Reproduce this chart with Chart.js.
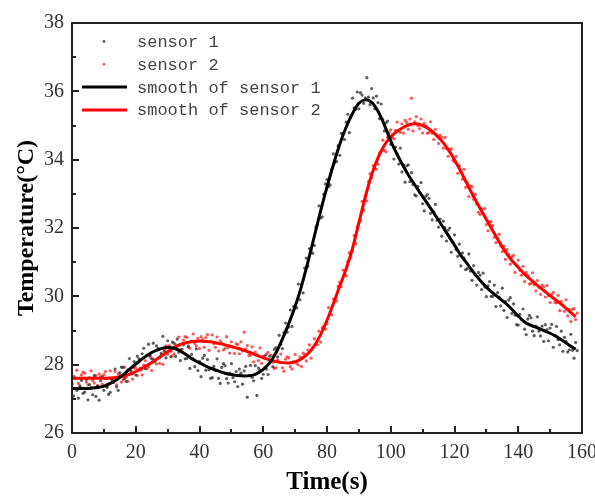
<!DOCTYPE html>
<html>
<head>
<meta charset="utf-8">
<script src="https://cdn.jsdelivr.net/npm/chart.js@4.4.0/dist/chart.umd.min.js"></script>
<style>
  html, body { margin: 0; padding: 0; background: #fff; }
  #wrap { width: 595px; height: 498px; }
</style>
</head>
<body>
<div id="wrap"><canvas id="tempChart" width="595" height="498"></canvas></div>
<script>
// sampling of the raw readings and of the smoothed curves (seconds)
const sampleInterval = 0.5;
const smoothInterval = 2;

const seriesLabels = ['sensor 1', 'sensor 2', 'smooth of sensor 1', 'smooth of sensor 2'];
const xTicks = [0, 20, 40, 60, 80, 100, 120, 140, 160];
const yTicks = [26, 28, 30, 32, 34, 36, 38];

// raw readings, sensor 1 (8 samples = 4 s per row)
const sensor1 = [
  27.45, 27.08, 27.61, 27.25, 27.02, 27.38, 27.54, 27.16, // 0
  27.20, 27.57, 26.97, 27.42, 27.33, 27.12, 27.68, 27.07, // 4
  27.38, 26.96, 27.53, 27.65, 27.25, 27.60, 27.34, 27.13, // 8
  27.19, 27.57, 27.48, 27.87, 27.35, 27.25, 27.77, 27.93, // 12
  27.92, 27.59, 27.51, 27.85, 28.18, 27.82, 27.74, 28.09, // 16
  27.70, 28.25, 28.17, 27.89, 28.32, 28.48, 27.88, 28.28, // 20
  28.60, 28.27, 28.17, 28.63, 28.09, 28.55, 28.48, 28.22, // 24
  28.33, 28.83, 28.39, 28.20, 28.70, 28.49, 28.23, 28.66, // 28
  28.63, 28.24, 28.75, 28.37, 28.12, 28.45, 28.58, 28.17, // 32
  28.18, 28.52, 27.89, 28.30, 28.17, 27.94, 28.46, 27.83, // 36
  28.10, 27.65, 28.19, 28.27, 27.84, 28.15, 27.85, 27.60, // 40
  27.62, 27.95, 27.83, 28.17, 27.60, 27.45, 27.92, 28.03, // 44
  27.97, 27.59, 27.46, 27.75, 28.03, 27.62, 27.50, 27.80, // 48
  27.36, 27.87, 27.75, 27.43, 27.82, 27.95, 27.05, 27.69, // 52
  27.98, 27.63, 27.53, 27.97, 27.10, 27.90, 27.84, 27.60, // 56
  27.72, 28.26, 27.87, 27.71, 28.25, 28.12, 27.94, 28.45, // 60
  28.50, 28.23, 28.86, 28.60, 28.47, 28.94, 29.22, 28.95, // 64
  29.10, 29.60, 29.12, 29.70, 29.72, 29.66, 30.36, 29.90, // 68
  30.35, 30.10, 30.83, 31.12, 30.88, 31.40, 31.31, 31.26, // 72
  31.49, 32.03, 32.11, 32.65, 32.29, 32.33, 32.99, 33.29, // 76
  33.42, 33.21, 33.26, 33.72, 34.17, 33.92, 33.95, 34.41, // 80
  34.13, 34.77, 34.77, 34.59, 35.10, 35.33, 34.79, 35.26, // 84
  35.80, 35.52, 35.47, 35.98, 35.49, 35.96, 35.89, 35.65, // 88
  35.81, 36.40, 35.83, 35.61, 36.08, 35.81, 35.49, 35.86, // 92
  35.67, 35.20, 35.63, 35.17, 34.84, 35.08, 35.13, 34.63, // 96
  34.45, 34.72, 34.02, 34.37, 34.17, 33.87, 34.34, 33.64, // 100
  33.85, 33.34, 33.82, 33.85, 33.36, 33.62, 33.27, 32.97, // 104
  32.94, 33.22, 33.04, 33.33, 32.71, 32.50, 32.93, 32.98, // 108
  32.87, 32.43, 32.24, 32.47, 32.69, 32.22, 32.03, 32.26, // 112
  31.76, 32.20, 32.01, 31.62, 31.94, 32.00, 31.29, 31.58, // 116
  31.80, 31.37, 31.17, 31.53, 30.89, 31.27, 31.12, 30.78, // 120
  30.81, 31.24, 30.74, 30.47, 30.90, 30.63, 30.33, 30.70, // 124
  30.62, 30.20, 30.68, 30.27, 29.99, 30.31, 30.43, 30.00, // 128
  30.00, 30.33, 29.70, 30.11, 29.97, 29.72, 30.24, 29.59, // 132
  29.85, 29.38, 29.89, 29.96, 29.50, 29.78, 29.45, 29.17, // 136
  29.16, 29.47, 29.32, 29.63, 29.04, 28.88, 29.34, 29.44, // 140
  29.37, 28.98, 28.85, 29.13, 29.40, 28.98, 28.84, 29.13, // 144
  28.68, 29.17, 29.03, 28.70, 29.07, 29.18, 28.51, 28.86, // 148
  29.12, 28.73, 28.58, 28.98, 28.39, 28.80, 28.68, 28.37, // 152
  28.43, 28.89, 28.42, 28.19, 28.65, 28.41                // 156
];

// raw readings, sensor 2
const sensor2 = [
  27.42, 27.66, 27.59, 27.84, 27.45, 27.35, 27.70, 27.78, // 0
  27.75, 27.49, 27.41, 27.62, 27.82, 27.54, 27.46, 27.68, // 4
  27.38, 27.73, 27.65, 27.43, 27.71, 27.80, 27.35, 27.61, // 8
  27.82, 27.57, 27.49, 27.80, 27.41, 27.73, 27.68, 27.49, // 12
  27.56, 27.93, 27.63, 27.51, 27.86, 27.73, 27.58, 27.90, // 16
  27.91, 27.68, 28.07, 27.84, 27.70, 27.99, 28.12, 27.88, // 20
  27.93, 28.22, 27.83, 28.17, 28.13, 28.02, 28.44, 28.04, // 24
  28.29, 28.01, 28.45, 28.55, 28.30, 28.56, 28.39, 28.26, // 28
  28.32, 28.58, 28.54, 28.81, 28.44, 28.36, 28.72, 28.82, // 32
  28.80, 28.55, 28.48, 28.69, 28.90, 28.62, 28.55, 28.77, // 36
  28.47, 28.82, 28.74, 28.51, 28.79, 28.88, 28.42, 28.68, // 40
  28.87, 28.61, 28.51, 28.81, 28.40, 28.70, 28.63, 28.43, // 44
  28.48, 28.82, 28.50, 28.34, 28.67, 28.51, 28.33, 28.61, // 48
  28.59, 28.32, 28.67, 28.40, 28.95, 28.46, 28.56, 28.27, // 52
  28.28, 28.52, 28.08, 28.37, 28.28, 28.12, 28.49, 28.04, // 56
  28.24, 27.92, 28.30, 28.36, 28.06, 28.28, 28.07, 27.89, // 60
  27.91, 28.14, 28.07, 28.31, 27.91, 27.81, 28.16, 28.23, // 64
  28.20, 27.94, 27.87, 28.09, 28.30, 28.04, 27.99, 28.23, // 68
  27.95, 28.34, 28.30, 28.11, 28.43, 28.58, 28.19, 28.50, // 72
  28.76, 28.59, 28.59, 28.98, 28.66, 29.08, 29.12, 29.04, // 76
  29.20, 29.67, 29.48, 29.46, 29.92, 29.90, 29.86, 30.29, // 80
  30.41, 30.28, 30.77, 30.64, 30.60, 31.01, 31.27, 31.15, // 84
  31.33, 31.78, 31.55, 32.04, 32.16, 32.21, 32.78, 32.53, // 88
  32.94, 32.79, 33.36, 33.59, 33.47, 33.83, 33.75, 33.72, // 92
  33.87, 34.20, 34.23, 34.57, 34.27, 34.23, 34.65, 34.79, // 96
  34.87, 34.65, 34.61, 34.86, 35.10, 34.85, 34.80, 35.05, // 100
  34.78, 35.15, 35.09, 34.89, 35.19, 35.80, 34.84, 35.11, // 104
  35.26, 35.00, 34.91, 35.19, 34.78, 35.07, 34.98, 34.77, // 108
  34.80, 35.11, 34.77, 34.59, 34.89, 34.69, 34.47, 34.72, // 112
  34.66, 34.34, 34.65, 34.32, 34.10, 34.29, 34.32, 33.98, // 116
  33.93, 34.10, 33.60, 33.82, 33.66, 33.43, 33.72, 33.19, // 120
  33.32, 32.92, 33.23, 33.21, 32.84, 32.99, 32.70, 32.46, // 124
  32.40, 32.56, 32.41, 32.57, 32.10, 31.92, 32.19, 32.18, // 128
  32.07, 31.73, 31.57, 31.70, 31.82, 31.47, 31.31, 31.46, // 132
  31.08, 31.37, 31.23, 30.94, 31.16, 31.20, 30.70, 30.91, // 136
  31.06, 30.76, 30.62, 30.88, 30.43, 30.70, 30.60, 30.36, // 140
  30.38, 30.69, 30.34, 30.16, 30.46, 30.27, 30.06, 30.33, // 144
  30.28, 29.98, 30.32, 30.02, 29.82, 30.05, 30.12, 29.82, // 148
  29.81, 30.03, 29.58, 29.85, 29.74, 29.56, 29.90, 29.43, // 152
  29.61, 29.26, 29.62, 29.64, 29.32, 29.51                // 156
];

// smoothed curves, one value every 2 s (10 per row = 20 s)
const smooth1 = [
  27.30, 27.30, 27.30, 27.31, 27.33, 27.37, 27.45, 27.56, 27.70, 27.86, // 0
  28.02, 28.17, 28.30, 28.40, 28.47, 28.50, 28.48, 28.40, 28.28, 28.15, // 20
  28.05, 27.96, 27.88, 27.81, 27.75, 27.71, 27.68, 27.67, 27.68, 27.74, // 40
  27.86, 28.05, 28.35, 28.75, 29.20, 29.70, 30.30, 31.00, 31.75, 32.50, // 60
  33.20, 33.85, 34.45, 34.95, 35.35, 35.65, 35.75, 35.68, 35.42, 35.02, // 80
  34.55, 34.15, 33.80, 33.48, 33.20, 32.92, 32.65, 32.37, 32.08, 31.79, // 100
  31.50, 31.20, 30.95, 30.70, 30.47, 30.27, 30.10, 29.95, 29.80, 29.62, // 120
  29.42, 29.25, 29.15, 29.08, 29.00, 28.92, 28.82, 28.70, 28.57, 28.45  // 140
];

const smooth2 = [
  27.60, 27.60, 27.60, 27.60, 27.60, 27.60, 27.61, 27.63, 27.66, 27.72, // 0
  27.80, 27.90, 28.00, 28.12, 28.25, 28.38, 28.50, 28.59, 28.65, 28.68, // 20
  28.69, 28.68, 28.66, 28.62, 28.58, 28.53, 28.48, 28.42, 28.35, 28.27, // 40
  28.20, 28.14, 28.09, 28.06, 28.05, 28.08, 28.17, 28.32, 28.55, 28.88, // 60
  29.30, 29.78, 30.30, 30.80, 31.40, 32.15, 32.90, 33.55, 34.05, 34.42, // 80
  34.67, 34.83, 34.95, 35.03, 35.05, 35.00, 34.90, 34.75, 34.55, 34.30, // 100
  34.00, 33.65, 33.28, 32.92, 32.58, 32.25, 31.92, 31.60, 31.30, 31.05, // 120
  30.85, 30.65, 30.48, 30.32, 30.17, 30.02, 29.88, 29.73, 29.57, 29.40  // 140
];

function toPoints(values, step) {
  return values.map((v, i) => ({ x: i * step, y: v }));
}

const serif = "'Liberation Serif', 'Times New Roman', serif";
const mono = "'Liberation Mono', 'Courier New', monospace";

// frame, inward ticks and the legend inside the plot
const framePlugin = {
  id: 'frame',
  afterDraw(chart) {
    const ctx = chart.ctx;
    const area = chart.chartArea;
    const xs = chart.scales.x;
    const ys = chart.scales.y;
    ctx.save();
    ctx.strokeStyle = '#222';
    ctx.lineWidth = 2;
    ctx.strokeRect(area.left, area.top, area.right - area.left, area.bottom - area.top);

    // major + minor ticks pointing into the plot
    ctx.beginPath();
    for (let i = 0; i < xTicks.length; i++) {
      const px = Math.round(xs.getPixelForValue(xTicks[i]));
      ctx.moveTo(px, area.bottom);
      ctx.lineTo(px, area.bottom - 7);
      if (i < xTicks.length - 1) {
        const mx = Math.round(xs.getPixelForValue((xTicks[i] + xTicks[i + 1]) / 2));
        ctx.moveTo(mx, area.bottom);
        ctx.lineTo(mx, area.bottom - 4);
      }
    }
    for (let i = 0; i < yTicks.length; i++) {
      const py = Math.round(ys.getPixelForValue(yTicks[i]));
      ctx.moveTo(area.left, py);
      ctx.lineTo(area.left + 7, py);
      if (i < yTicks.length - 1) {
        const my = Math.round(ys.getPixelForValue((yTicks[i] + yTicks[i + 1]) / 2));
        ctx.moveTo(area.left, my);
        ctx.lineTo(area.left + 4, my);
      }
    }
    ctx.stroke();

    // legend
    ctx.font = '17px ' + mono;
    ctx.textBaseline = 'middle';
    ctx.textAlign = 'left';
    chart.data.datasets.forEach((ds, i) => {
      const y = area.top + 18.5 + i * 22.8;
      if (ds.showLine) {
        ctx.strokeStyle = ds.borderColor;
        ctx.lineWidth = 3;
        ctx.beginPath();
        ctx.moveTo(area.left + 10, y);
        ctx.lineTo(area.left + 55, y);
        ctx.stroke();
      } else {
        ctx.fillStyle = ds.backgroundColor;
        ctx.beginPath();
        ctx.arc(area.left + 32, y, 1.4, 0, Math.PI * 2);
        ctx.fill();
      }
      ctx.fillStyle = '#444';
      ctx.fillText(ds.label, area.left + 65, y + 1);
    });
    ctx.restore();
  }
};

const ctx = document.getElementById('tempChart').getContext('2d');
new Chart(ctx, {
  type: 'scatter',
  data: {
    datasets: [
      {
        label: seriesLabels[0],
        data: toPoints(sensor1, sampleInterval),
        backgroundColor: 'rgba(40, 40, 40, 0.75)',
        borderWidth: 0,
        pointRadius: 1.6,
        order: 2
      },
      {
        label: seriesLabels[1],
        data: toPoints(sensor2, sampleInterval),
        backgroundColor: 'rgba(255, 30, 30, 0.75)',
        borderWidth: 0,
        pointRadius: 1.6,
        order: 2
      },
      {
        label: seriesLabels[2],
        data: toPoints(smooth1, smoothInterval),
        showLine: true,
        borderColor: '#000000',
        borderWidth: 3,
        pointRadius: 0,
        tension: 0.3,
        order: 1
      },
      {
        label: seriesLabels[3],
        data: toPoints(smooth2, smoothInterval),
        showLine: true,
        borderColor: '#ff0000',
        borderWidth: 3,
        pointRadius: 0,
        tension: 0.3,
        order: 1
      }
    ]
  },
  options: {
    responsive: false,
    animation: false,
    layout: { padding: { top: 23, right: 13, left: 0, bottom: 0 } },
    plugins: {
      legend: { display: false },
      tooltip: { enabled: false }
    },
    scales: {
      x: {
        type: 'linear',
        min: 0,
        max: 160,
        grid: { display: false, drawTicks: false },
        border: { display: false },
        afterBuildTicks(scale) { scale.ticks = xTicks.map(v => ({ value: v })); },
        afterFit(scale) { scale.height = 65; scale.paddingLeft = 0; scale.paddingRight = 0; },
        ticks: { padding: 8, color: '#333', font: { family: serif, size: 20 } },
        title: {
          display: true,
          text: 'Time(s)',
          color: '#000',
          padding: { top: 0, bottom: 0 },
          font: { family: serif, size: 25, weight: 'bold' }
        }
      },
      y: {
        type: 'linear',
        min: 26,
        max: 38,
        grid: { display: false, drawTicks: false },
        border: { display: false },
        afterBuildTicks(scale) { scale.ticks = yTicks.map(v => ({ value: v })); },
        afterFit(scale) { scale.width = 72; scale.paddingTop = 0; scale.paddingBottom = 0; },
        ticks: { padding: 8, color: '#333', font: { family: serif, size: 20 } },
        title: {
          display: true,
          text: 'Temperature(°C)',
          color: '#000',
          padding: { top: 12, bottom: 0 },
          font: { family: serif, size: 24, weight: 'bold' }
        }
      }
    }
  },
  plugins: [framePlugin]
});
</script>
</body>
</html>
